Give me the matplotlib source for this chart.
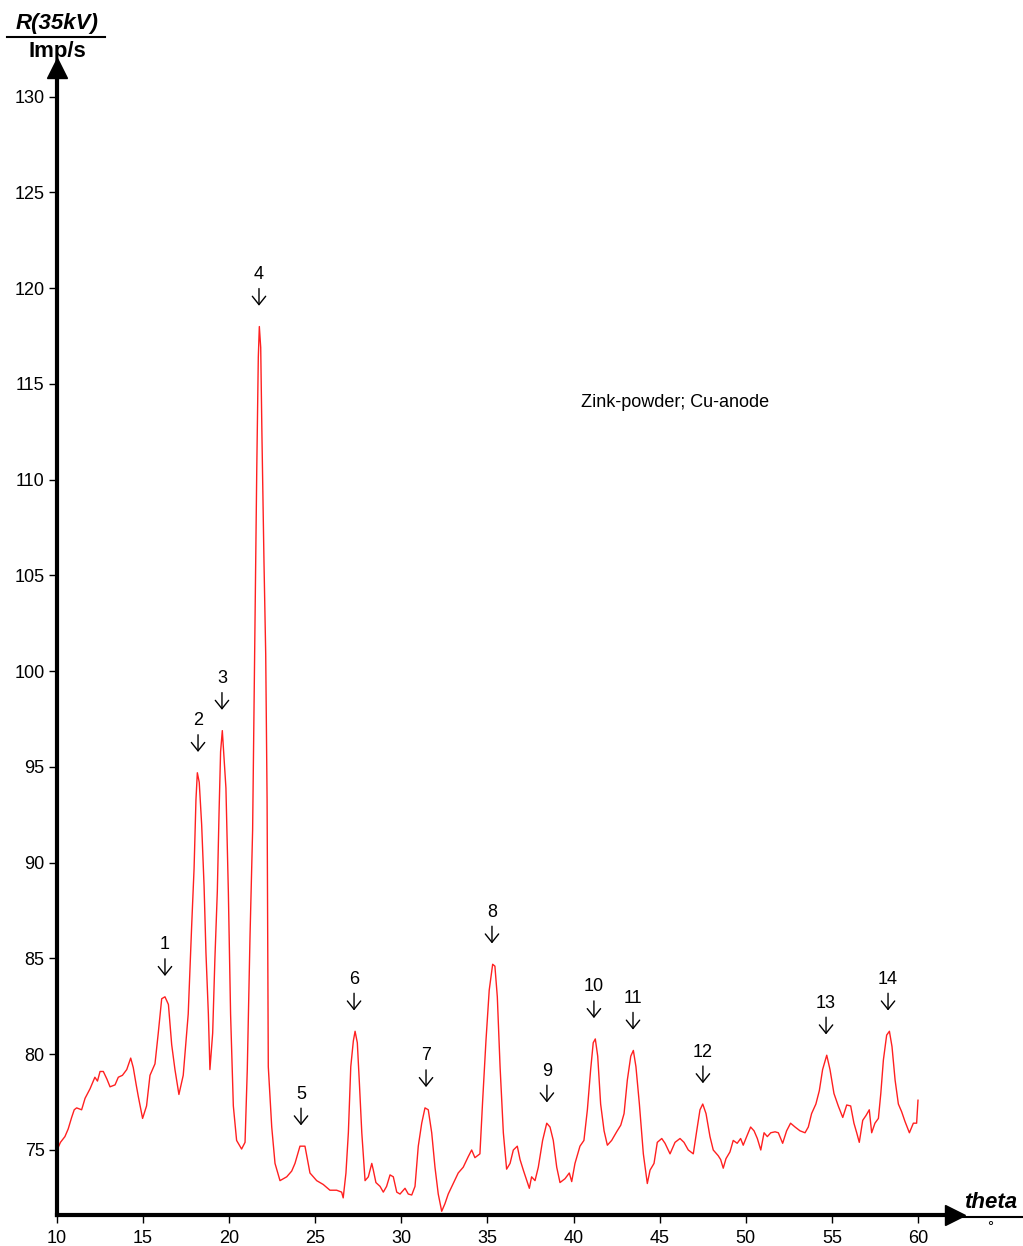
import matplotlib
matplotlib.use("Agg")
import matplotlib.pyplot as plt
from matplotlib.lines import Line2D

# X-ray diffraction scan
theta = [10.0, 10.2, 10.46, 10.65, 10.85, 11.0, 11.14, 11.43, 11.63, 11.92, 12.2, 12.35, 12.5, 12.69,
         12.9, 13.08, 13.37, 13.56, 13.8, 14.05, 14.28, 14.43, 14.6, 14.72, 14.97, 15.2,
         15.4, 15.69, 15.88, 16.08, 16.27, 16.47, 16.66, 16.85, 17.08, 17.33, 17.62,
         17.82, 17.96, 18.07, 18.15, 18.26, 18.4, 18.54, 18.65, 18.79, 18.88, 19.04,
         19.17, 19.31, 19.41, 19.5, 19.6, 19.7, 19.81, 19.95, 20.08, 20.24, 20.43,
         20.72, 20.92, 21.05, 21.21, 21.36, 21.48, 21.6, 21.69, 21.75, 21.83, 21.9,
         22.02, 22.12, 22.2, 22.27, 22.47, 22.66, 22.95, 23.34, 23.63, 23.82, 24.11,
         24.4, 24.69, 25.08, 25.46, 25.85, 26.24, 26.53, 26.62, 26.78, 26.92, 27.06,
         27.21, 27.31, 27.44, 27.56, 27.7, 27.89, 28.08, 28.28, 28.37, 28.52, 28.76,
         28.95, 29.14, 29.34, 29.53, 29.73, 29.92, 30.21, 30.4, 30.6, 30.79, 30.98,
         31.18, 31.37, 31.56, 31.76, 31.95, 32.14, 32.34, 32.53, 32.72, 33.01, 33.3,
         33.59, 33.88, 34.08, 34.27, 34.56, 34.72, 34.91, 35.1, 35.3, 35.43, 35.57,
         35.73, 35.92, 36.11, 36.31, 36.5, 36.73, 36.89, 37.08, 37.28, 37.43, 37.56,
         37.76, 37.95, 38.2, 38.44, 38.63, 38.82, 39.02, 39.21, 39.5, 39.75, 39.89,
         40.08, 40.37, 40.6, 40.8, 40.99, 41.14, 41.26, 41.4, 41.57, 41.77, 41.96,
         42.21, 42.5, 42.74, 42.93, 43.12, 43.32, 43.47, 43.62, 43.82, 44.05, 44.28,
         44.44, 44.67, 44.86, 45.12, 45.31, 45.6, 45.89, 46.18, 46.41, 46.66, 46.95,
         47.15, 47.34, 47.5, 47.69, 47.92, 48.11, 48.4, 48.54, 48.69, 48.85, 49.08,
         49.27, 49.5, 49.7, 49.85, 50.05, 50.28, 50.48, 50.67, 50.87, 51.06, 51.25,
         51.45, 51.7, 51.89, 52.14, 52.37, 52.6, 52.86, 53.15, 53.44, 53.63, 53.82,
         54.07, 54.27, 54.46, 54.7, 54.89, 55.12, 55.37, 55.63, 55.86, 56.09, 56.28,
         56.44, 56.59, 56.79, 56.98, 57.17, 57.31, 57.5, 57.7, 57.84, 57.99, 58.18,
         58.34, 58.49, 58.67, 58.86, 59.05, 59.24, 59.5, 59.73, 59.92, 60.0]
counts = [75.0, 75.4, 75.7, 76.1, 76.7, 77.1, 77.2, 77.1, 77.7, 78.2, 78.8, 78.6, 79.1, 79.1,
          78.7, 78.3, 78.4, 78.8, 78.9, 79.2, 79.8, 79.3, 78.4, 77.8, 76.65, 77.3,
          78.9, 79.5, 81.1, 82.9, 83.0, 82.6, 80.5, 79.2, 77.9, 78.9, 82.1,
          86.7, 89.7, 93.3, 94.7, 94.2, 92.0, 88.8, 85.3, 82.1, 79.2, 81.1,
          85.0, 88.5, 92.6, 95.8, 96.9, 95.5, 93.9, 88.5, 82.1, 77.3, 75.5,
          75.05, 75.4, 79.2, 86.2, 91.7, 101.2, 110.5, 116.4, 118.0, 116.9, 112.4,
          105.7, 100.9, 93.3, 79.35, 76.2, 74.3, 73.4, 73.6, 73.9, 74.3, 75.2,
          75.2, 73.8, 73.4, 73.2, 72.9, 72.9, 72.8, 72.5, 73.8, 75.9, 79.35,
          80.7, 81.2, 80.6, 78.5, 75.9, 73.4, 73.6, 74.3, 73.95, 73.3, 73.1,
          72.8, 73.1, 73.7, 73.6, 72.8, 72.7, 73.0, 72.7, 72.65, 73.1, 75.2,
          76.4, 77.2, 77.1, 75.9, 74.1, 72.7, 71.8, 72.2, 72.7, 73.25, 73.8,
          74.1, 74.65, 75.0, 74.6, 74.8, 77.6, 80.7, 83.35, 84.7, 84.6, 83.0,
          79.35, 75.9, 74.0, 74.3, 75.0, 75.2, 74.5, 73.95, 73.4, 73.0, 73.6,
          73.4, 74.1, 75.5, 76.4, 76.2, 75.5, 74.1, 73.3, 73.5, 73.8, 73.35,
          74.3, 75.2, 75.5, 77.1, 79.2, 80.6, 80.8, 79.9, 77.4, 76.0, 75.25,
          75.5, 75.95, 76.3, 76.9, 78.65, 79.9, 80.2, 79.35, 77.4, 74.8, 73.25,
          73.95, 74.3, 75.4, 75.6, 75.35, 74.8, 75.4, 75.6, 75.4, 75.0, 74.8,
          76.0, 77.1, 77.4, 76.9, 75.7, 75.0, 74.7, 74.5, 74.05, 74.55, 74.9,
          75.5, 75.35, 75.6, 75.25, 75.7, 76.2, 76.0, 75.6, 75.0, 75.9, 75.7,
          75.9, 75.95, 75.9, 75.35, 76.0, 76.4, 76.2, 76.0, 75.9, 76.2, 76.9,
          77.4, 78.1, 79.2, 79.95, 79.2, 77.95, 77.3, 76.7, 77.35, 77.3, 76.4,
          75.9, 75.4, 76.55, 76.8, 77.1, 75.9, 76.4, 76.65, 77.95, 79.7, 81.0,
          81.2, 80.4, 78.65, 77.4, 77.0, 76.5, 75.9, 76.4, 76.4, 77.6]

# numbered reflections
peak_theta = [16.27, 18.19, 19.58, 21.73, 24.17, 27.25, 31.43, 35.26, 38.45, 41.18, 43.45, 47.51, 54.66, 58.26]
peak_counts = [83.0, 94.7, 96.9, 118.0, 75.2, 81.2, 77.2, 84.7, 76.4, 80.8, 80.2, 77.4, 79.95, 81.2]
peak_labels = [str(n) for n in range(1, 15)]

W, H = 1023, 1246
plt.rcParams['font.family'] = ['Liberation Sans', 'DejaVu Sans']
fig = plt.figure(figsize=(W / 100, H / 100), dpi=100)

# axes box in pixels: left 57, right 955 (arrow tip), top 68 (arrow tip), bottom 1215
ax = fig.add_axes([57 / W, 1 - 1215 / H, (955 - 57) / W, (1215 - 68) / H])
ax.plot(theta, counts, color='#ff2020', lw=1.0)

ax.set_xlim(10, 10 + (955 - 57) / 17.22)
ax.set_ylim(75 - (1215 - 1150) / 19.15, 75 + (1150 - 68) / 19.15)
ax.set_xticks(range(10, 61, 5))
ax.set_yticks(range(75, 131, 5))
ax.tick_params(axis='both', labelsize=13, length=6, width=1, color='black')
ax.tick_params(axis='x', pad=5)
ax.tick_params(axis='y', pad=3)

for s in ['top', 'right']:
    ax.spines[s].set_visible(False)
for s in ['left', 'bottom']:
    ax.spines[s].set_linewidth(3)

# arrow heads on both axes
ax.plot(1, 0, marker='>', markersize=14, color='black', transform=ax.transAxes, clip_on=False)
ax.plot(0, 1, marker='^', markersize=14, color='black', transform=ax.transAxes, clip_on=False)

for t, c, lab in zip(peak_theta, peak_counts, peak_labels):
    ax.annotate('', xy=(t, c), xytext=(0, 38), textcoords='offset pixels',
                arrowprops=dict(arrowstyle='->, head_length=0.5, head_width=0.4',
                                lw=1.0, color='black', shrinkA=0, shrinkB=15,
                                mutation_scale=12))
    ax.annotate(lab, (t, c), xytext=(0, 52), textcoords='offset pixels',
                ha='center', va='center', fontsize=13)

ax.text(40.43, 114.06, 'Zink-powder; Cu-anode', fontsize=13, va='center', ha='left')

# axis titles drawn as fractions
fig.text(57 / W, 1 - 23 / H, 'R(35kV)', ha='center', va='center', fontsize=16,
         fontweight='bold', fontstyle='italic')
fig.add_artist(Line2D([7 / W, 105 / W], [1 - 37 / H, 1 - 37 / H], color='black', lw=1.5))
fig.text(57 / W, 1 - 52 / H, 'Imp/s', ha='center', va='center', fontsize=16, fontweight='bold')

fig.text(991 / W, 1 - 1203 / H, 'theta', ha='center', va='center', fontsize=16,
         fontweight='bold', fontstyle='italic')
fig.add_artist(Line2D([957 / W, 1022 / W], [1 - 1217 / H, 1 - 1217 / H], color='black', lw=1.5))
fig.text(990 / W, 1 - 1227 / H, '\u00b0', ha='center', va='center', fontsize=11)

fig.savefig('out.png', dpi=100)
